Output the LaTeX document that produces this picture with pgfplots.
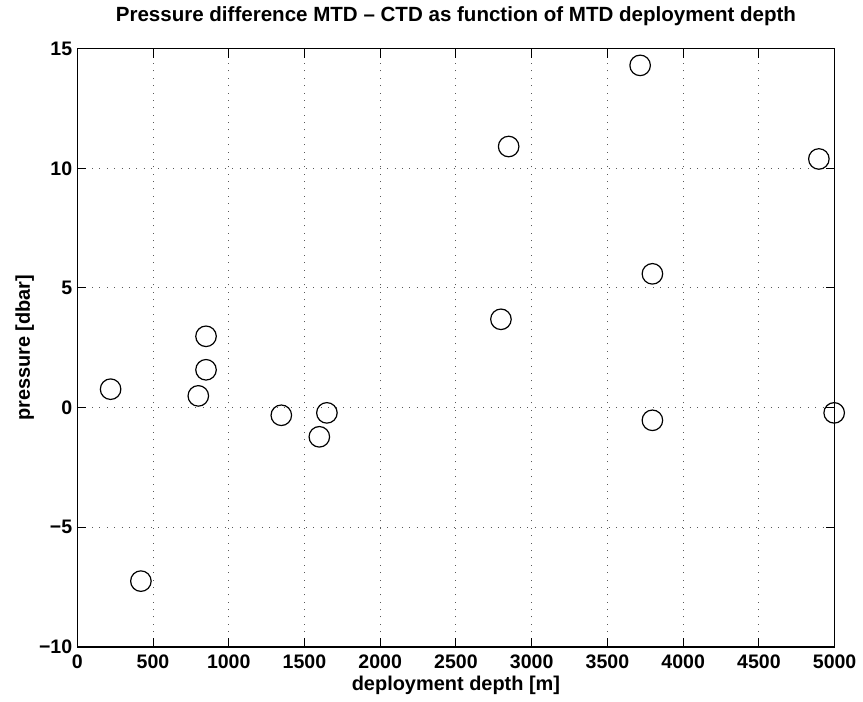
\documentclass[border=0pt]{standalone}
\usepackage{fontspec}
\setmainfont{Liberation Sans}
\usepackage{pgfplots}
\pgfplotsset{compat=1.18}
\begin{document}
\begin{tikzpicture}[x=1pt,y=1pt]
\begin{axis}[
  at={(0,0)}, anchor=south west,
  scale only axis,
  width=379.75pt, height=300pt,
  xmin=0, xmax=5000, ymin=-10, ymax=15,
  xtick={0,500,...,5000},
  xticklabels={0,500,1000,1500,2000,2500,3000,3500,4000,4500,5000},
  ytick={-10,-5,0,5,10,15},
  yticklabels={−10,−5,0,5,10,15},
  scaled x ticks=false,
  tick align=inside,
  major tick length=4.5pt,
  tick style={black, line width=0.5pt},
  axis line style={black, line width=0.7pt},
  grid=major,
  major grid style={gray!70!black, dash pattern=on 0.5pt off 3.2pt, line width=0.5pt},
  ticklabel style={font=\fontsize{9.8}{11}\selectfont\bfseries},
  xticklabel style={yshift=-0.5pt},
  yticklabel style={xshift=1pt},
  xlabel={deployment depth [m]},
  ylabel={pressure [dbar]},
  xlabel style={font=\fontsize{10}{12}\selectfont\bfseries, at={(axis description cs:0.5,-0.0733)}, anchor=base},
  ylabel style={font=\fontsize{10}{12}\selectfont\bfseries, at={(axis description cs:-0.0625,0.5)}, anchor=base},
  title={Pressure difference MTD – CTD as function of MTD deployment depth},
  title style={font=\fontsize{10.3}{12}\selectfont\bfseries, at={(axis description cs:0.5,1.0253)}, anchor=base},
  clip=false,
]
\addplot[only marks, mark=o, mark size=5.15pt, mark options={black, line width=0.6pt}] coordinates {
  (220,0.77) (420,-7.25) (799,0.49) (850,2.98) (850,1.58)
  (1347,-0.32) (1598,-1.22) (1648,-0.22)
  (2797,3.69) (2848,10.91)
  (3716,14.3) (3797,5.59) (3797,-0.53)
  (4896,10.39) (4997,-0.22)
};
\end{axis}
\path[use as bounding box] (-38.75pt,-26pt) rectangle (392.75pt,323pt);
\end{tikzpicture}
\end{document}
